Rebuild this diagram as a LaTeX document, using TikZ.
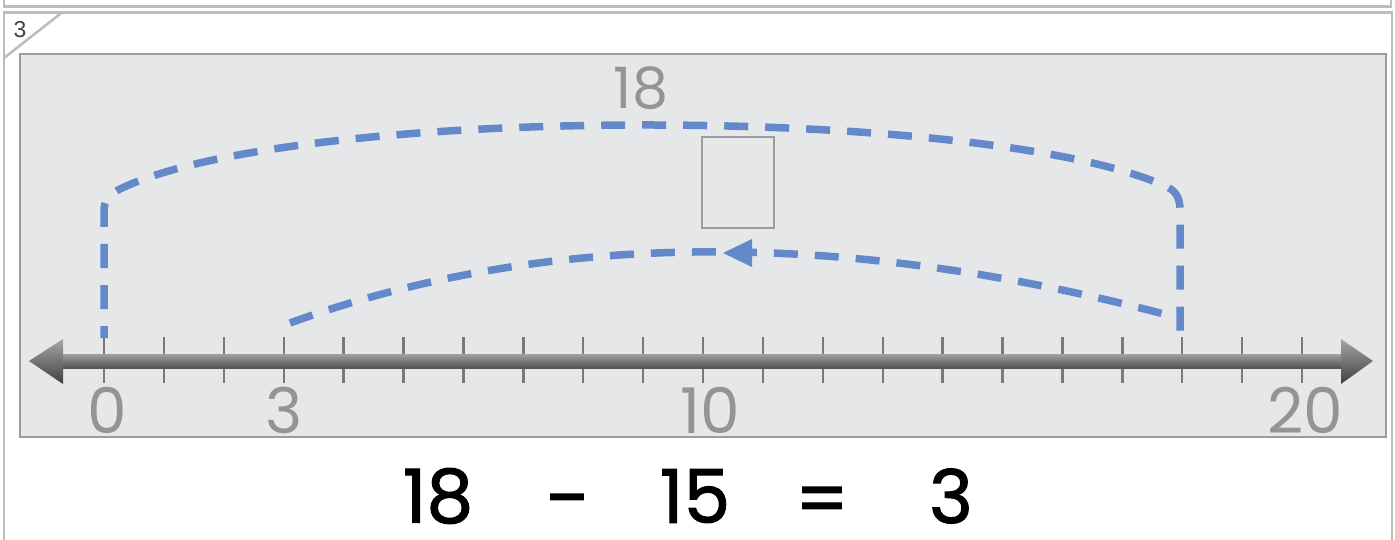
\documentclass[tikz,border=0pt]{standalone}
\usepackage{fontspec}
\newfontfamily\digitfont{Poppins}
\newfontfamily\eqfont{Poppins}[FakeBold=1.6]
\newfontfamily\tabfont{Liberation Sans}
\definecolor{framegray}{HTML}{BDBDBD}
\definecolor{panelfill}{HTML}{E6E7E9}
\definecolor{panelline}{HTML}{9C9C9C}
\definecolor{labelgray}{HTML}{949494}
\definecolor{tickgray}{HTML}{7A7A7A}
\definecolor{dashblue}{HTML}{6489CB}
\definecolor{tabtext}{HTML}{444444}
\begin{document}
\begin{tikzpicture}[x=1pt,y=-1pt,
  frameline/.style={draw=framegray,line width=2.5pt},
  tickline/.style={draw=tickgray,line width=2.4pt},
  jumpline/.style={draw=dashblue,line width=7.5pt,dash pattern=on 24pt off 17pt},
  numlabel/.style={text=labelgray,font=\digitfont\fontsize{63}{63}\selectfont,inner sep=0pt},
  eqtext/.style={text=black,font=\eqfont\fontsize{74}{74}\selectfont,inner sep=0pt},
]
\useasboundingbox (0,0) rectangle (1395,540);
\clip (0,0) rectangle (1395,540);
\fill[white] (0,0) rectangle (1395,540);
% previous panel and current panel frames
\draw[frameline] (4,-20) rectangle (1391,6.5);
\draw[frameline] (4,12.5) rectangle (1392,560);
\draw[frameline] (62,12.5) -- (4,58);
\node[text=tabtext,font=\tabfont\fontsize{23}{23}\selectfont,inner sep=0pt] (tab) at (20,30) {3};
% gray panel
\draw[fill=panelfill,draw=panelline,line width=2.5pt] (20,54) rectangle (1386,437);
% ticks
\foreach \i in {0,...,20}{
  \draw[tickline] ({104+59.9*\i},337) -- ++(0,46);
}
% number line shaft and arrowheads
\shade[top color=black!38,bottom color=black!68] (60,354.5) rectangle (1344,368);
\shade[top color=black!35,bottom color=black!75] (29,361) -- (63,339) -- (63,384) -- cycle;
\shade[top color=black!35,bottom color=black!75] (1373,361) -- (1341,339) -- (1341,384) -- cycle;
% labels
\node[numlabel] (n0) at (107,410) {0};
\node[numlabel] (n3) at (284,410) {3};
\node[numlabel] (n10) at (710,410) {10};
\node[numlabel] (n20) at (1305,410) {20};
% top label and box
\node[text=labelgray,font=\digitfont\fontsize{57}{57}\selectfont,inner sep=0pt] (top) at (641,88) {18};
\draw[draw=panelline,line width=2.5pt] (702,137) rectangle (774,228);
% jumps
\draw[jumpline,dash phase=12pt] (104,338) -- (104,212)
   .. controls (104,200) and (108,196) .. (118,190)
   .. controls (290,104) and (983,104) .. (1165,186)
   .. controls (1175,190) and (1180,197) .. (1180,210) -- (1180,337);
\draw[jumpline] (290,323) .. controls (549,229) and (848,229) .. (1179,318);
\fill[dashblue] (723,253) -- (752,239) -- (752,267) -- cycle;
% equation
\node[eqtext] (e1) at (438,496) {18};
\node[eqtext,xscale=1.1] (e2) at (567,509) {−};
\node[eqtext] (e3) at (695,496) {15};
\node[eqtext] (e4) at (822,506) {=};
\node[eqtext] (e5) at (951,496) {3};
\end{tikzpicture}
\end{document}
